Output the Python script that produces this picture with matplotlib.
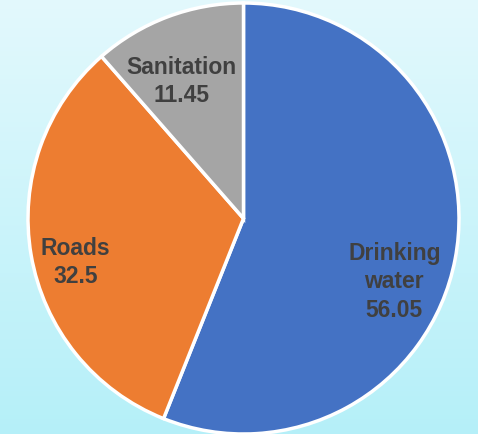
import numpy as np
import matplotlib.pyplot as plt

categories = ["Drinking\nwater", "Roads", "Sanitation"]
values = [56.05, 32.5, 11.45]
colors = ["#4472c4", "#ed7d31", "#a5a5a5"]

# label centres in pie-radius units (as placed in the original)
label_pos = [(0.70, -0.29), (-0.78, -0.20), (-0.29, 0.64)]

fig = plt.figure(figsize=(4.78, 4.35), dpi=100)

# light cyan gradient background
bg = fig.add_axes([0, 0, 1, 1], zorder=0)
grad = np.linspace(0, 1, 256).reshape(-1, 1)
top = np.array([0.89, 0.975, 0.99])
bottom = np.array([0.71, 0.94, 0.975])
img = top + (bottom - top) * grad[:, :, None]
bg.imshow(img, aspect="auto", extent=[0, 1, 0, 1])
bg.axis("off")

W, H = 478, 435
ax = fig.add_axes([28 / W, 0 / H, 431 / W, 431 / H], zorder=1)
ax.pie(values, colors=colors, startangle=90, counterclock=False,
       wedgeprops=dict(edgecolor="white", linewidth=2.5))
ax.set_xlim(-1.0, 1.0)
ax.set_ylim(-1.0, 1.0)
ax.set_aspect("equal")
ax.axis("off")

for name, v, (x, y) in zip(categories, values, label_pos):
    ax.text(x, y, f"{name}\n{v:g}", ha="center", va="center",
            fontsize=16.5, fontweight="bold", color="#404040",
            family="Liberation Sans", linespacing=1.3)

fig.savefig("out.png", dpi=100)
